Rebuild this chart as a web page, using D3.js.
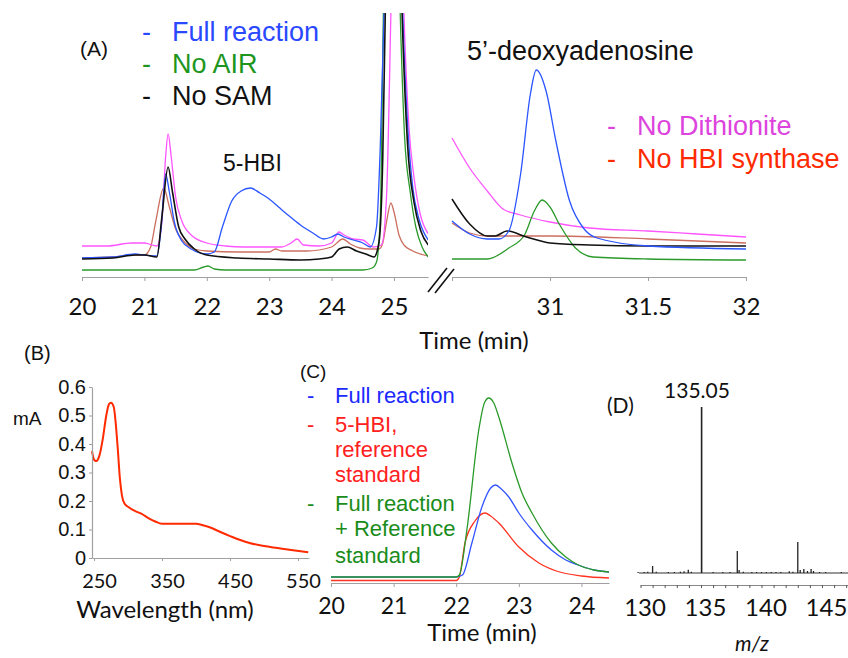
<!DOCTYPE html>
<html>
<head>
<meta charset="utf-8">
<script src="https://cdn.jsdelivr.net/npm/d3@7"></script>
<style>
  body { margin: 0; background: #fff; }
  svg { display: block; }
</style>
</head>
<body>
<script>
// ---- data (A: heights in detector units, t in min) ----
const aPinkL = [[20.0,31],[20.4,31],[20.8,34],[21.0,34],[21.2,31],[21.28,55],[21.34,120],[21.38,143],[21.43,120],[21.5,80],[21.6,56],[21.75,42],[22.0,34],[22.3,31],[22.6,30],[22.9,30],[23.2,30],[23.35,34],[23.45,38],[23.55,32],[23.8,31],[24.0,34],[24.12,45],[24.2,42],[24.35,38],[24.5,37],[24.67,30],[24.8,32],[24.88,80],[24.95,263],[25.02,480],[25.1,420],[25.16,263],[25.24,150],[25.32,100],[25.42,63],[25.55,43]];
const aBlueL = [[20.0,19],[20.5,20],[20.85,23],[21.0,22],[21.2,21],[21.27,50],[21.34,103],[21.4,85],[21.48,55],[21.6,36],[21.75,28],[22.0,23],[22.12,25],[22.25,50],[22.4,76],[22.55,86],[22.7,89],[22.85,84],[23.0,78],[23.15,70],[23.3,62],[23.5,52],[23.7,44],[23.87,38],[24.0,40],[24.1,43],[24.2,40],[24.35,37],[24.5,34],[24.62,30],[24.72,50],[24.78,130],[24.84,263],[24.92,480],[25.0,520],[25.08,400],[25.14,263],[25.22,150],[25.3,90],[25.4,58],[25.55,37]];
const aBlackL = [[20.0,18],[20.5,19],[20.85,22],[21.0,22],[21.2,20],[21.28,60],[21.38,110],[21.45,85],[21.55,50],[21.65,38],[21.8,28],[22.0,22],[22.5,19],[23.0,18],[23.5,17],[23.8,18],[24.0,20],[24.12,28],[24.25,30],[24.4,26],[24.55,23],[24.68,20],[24.76,35],[24.82,120],[24.86,263],[24.95,500],[25.05,470],[25.13,263],[25.22,130],[25.32,75],[25.43,46],[25.55,32]];
const aBrownL = [[20.0,19],[20.5,20],[20.85,22],[21.0,22],[21.1,30],[21.18,55],[21.31,89],[21.4,70],[21.5,48],[21.6,38],[21.8,28],[22.0,26],[22.5,25],[23.0,25],[23.1,28],[23.2,26],[23.6,26],[24.0,30],[24.18,38],[24.3,33],[24.45,29],[24.6,28],[24.76,28],[24.82,34],[24.88,55],[24.95,74],[25.0,65],[25.08,42],[25.16,32],[25.3,26],[25.55,21]];
const aGreenL = [[20.0,7],[21.0,7],[21.8,7],[21.95,10],[22.02,11],[22.12,8],[22.3,7],[23.5,7],[24.5,7],[24.65,9],[24.72,15],[24.78,60],[24.83,263],[24.92,500],[25.02,470],[25.1,263],[25.17,140],[25.26,85],[25.35,50],[25.45,30],[25.55,20]];

const aPinkR = [[30.5,139],[30.59,109],[30.68,86],[30.76,68],[30.85,62],[31.0,55],[31.2,49],[31.5,46],[31.75,43],[32.0,40]];
const aBlueR = [[30.5,56],[30.59,43],[30.68,38],[30.74,38],[30.79,46],[30.85,103],[30.9,183],[30.93,207],[30.98,186],[31.03,136],[31.1,76],[31.17,49],[31.24,39],[31.5,31],[32.0,28]];
const aBlackR = [[30.5,78],[30.59,53],[30.68,41],[30.72,41],[30.78,46],[30.88,40],[31.0,34],[31.2,32],[31.5,31],[32.0,31]];
const aBrownR = [[30.5,54],[30.59,44],[30.68,41],[31.0,41],[31.5,38],[32.0,34]];
const aGreenR = [[30.5,18],[30.68,18],[30.79,29],[30.87,42],[30.92,66],[30.96,77],[31.0,70],[31.05,52],[31.13,29],[31.22,20],[31.5,18],[32.0,17]];

const aTicksL = [20, 21, 22, 23, 24, 25];
const aTicksR = [30.5, 31, 31.5, 32];

// ---- B: UV-vis spectrum ----
const bSpectrum = [[247,0.375],[250,0.345],[253,0.34],[258,0.36],[263,0.42],[268,0.5],[272,0.54],[275,0.545],[279,0.53],[282,0.47],[285,0.38],[288,0.28],[291,0.22],[295,0.19],[300,0.18],[310,0.165],[320,0.155],[330,0.14],[340,0.128],[350,0.12],[370,0.12],[390,0.12],[400,0.12],[410,0.115],[420,0.108],[435,0.092],[450,0.077],[465,0.063],[480,0.052],[500,0.042],[520,0.035],[540,0.028],[565,0.02]];
const bTicksX = [250, 350, 450, 550];
const bTicksY = [0, 0.1, 0.2, 0.3, 0.4, 0.5, 0.6];

// ---- C: co-elution ----
const cGreen = [[20.0,6],[21.0,6],[22.0,6],[22.05,8],[22.17,53],[22.36,153],[22.45,180],[22.52,185],[22.6,180],[22.68,166],[22.89,120],[23.05,90],[23.21,70],[23.52,40],[23.75,26],[23.95,18],[24.2,13],[24.44,11]];
const cBlue = [[20.0,6],[22.0,6],[22.1,8],[22.25,40],[22.41,76],[22.55,95],[22.63,98],[22.72,94],[22.84,86],[23.0,70],[23.21,53],[23.52,33],[23.75,23],[23.95,18],[24.2,13],[24.44,11]];
const cRed = [[20.0,2.5],[22.0,2.5],[22.05,6],[22.14,40],[22.3,62],[22.46,70],[22.55,67],[22.68,60],[23.0,36],[23.32,20],[23.6,12],[24.0,7],[24.44,5]];
const cTicks = [20, 21, 22, 23, 24];

// ---- D: mass spectrum ----
const dMz  = [129.8,130.3,130.6,131.0,131.3,132.3,132.8,133.3,133.6,133.95,134.2,135.05,136.0,136.8,137.4,138.0,138.15,138.5,139.2,139.6,140.0,140.4,140.8,141.2,141.6,142.3,142.6,143.0,143.2,143.5,143.8,144.1,144.3,144.8,145.3,146.6];
const dInt = [0.6,0.6,0.8,4.2,0.8,0.6,0.6,0.8,1.0,2.0,0.8,100,0.6,0.6,0.6,13.3,1.8,0.8,0.6,0.6,0.6,0.6,0.6,0.6,0.6,1.0,0.8,18.7,1.8,2.4,1.2,2.4,1.2,0.6,0.6,0.6];
const dTicks = d3.range(130, 148, 1);

const cBlueC = "#2a55ff", cGreenC = "#2a9a2a", cPinkC = "#ff55ff", cBrownC = "#cc6f60";

const svg = d3.select("body").append("svg").attr("width", 848).attr("height", 658);
const arial = "'Liberation Sans', Arial, sans-serif";
const calib = "Lato, 'Open Sans', sans-serif";

const line = (x, y) => d3.line().x(d => x(d[0])).y(d => y(d[1])).curve(d3.curveMonotoneX);

const styleAxis = (g, size, fam) => {
    g.select(".domain").attr("stroke", "#a0a0a0").attr("stroke-width", 1.2);
    g.selectAll(".tick line").attr("stroke", "#a0a0a0");
    g.selectAll(".tick text").attr("fill", "#111").style("font-family", fam).style("font-size", size + "px");
};

const txt = (x, y, s, color, size, fam, anchor) => svg.append("text")
    .attr("x", x).attr("y", y).text(s)
    .attr("fill", color).attr("text-anchor", anchor || "start")
    .style("font-family", fam || arial).style("font-size", size + "px");

// ===== Panel A =====
const xAL = d3.scaleLinear().domain([20, 25.545]).range([82, 428]);
const xAR = d3.scaleLinear().domain([30.5, 32]).range([452, 746]);
const yA = d3.scaleLinear().domain([0, 264]).range([277, 13]);

svg.append("clipPath").attr("id", "clipA").append("rect").attr("x", 82).attr("y", 13).attr("width", 346).attr("height", 280);

const gAL = svg.append("g").attr("clip-path", "url(#clipA)");
[[aBrownL, cBrownC, 1.3], [aPinkL, cPinkC, 1.3], [aGreenL, cGreenC, 1.3], [aBlueL, cBlueC, 1.3], [aBlackL, "#111", 1.6]].forEach(([d, c, w]) => {
    gAL.append("path").attr("d", line(xAL, yA)(d)).attr("fill", "none").attr("stroke", c).attr("stroke-width", w);
});
const gAR = svg.append("g");
[[aBrownR, cBrownC, 1.3], [aPinkR, cPinkC, 1.3], [aGreenR, cGreenC, 1.3], [aBlackR, "#111", 1.5], [aBlueR, cBlueC, 1.3]].forEach(([d, c, w]) => {
    gAR.append("path").attr("d", line(xAR, yA)(d)).attr("fill", "none").attr("stroke", c).attr("stroke-width", w);
});

const axAL = svg.append("g").attr("transform", "translate(0,277)")
    .call(d3.axisBottom(xAL).tickValues(aTicksL).tickSize(4).tickSizeOuter(0).tickPadding(17).tickFormat(d3.format("d")));
styleAxis(axAL, 24, calib);
const axAR = svg.append("g").attr("transform", "translate(0,277)")
    .call(d3.axisBottom(xAR).tickValues(aTicksR).tickSize(4).tickSizeOuter(0).tickPadding(17).tickFormat(d => d === 30.5 ? "" : d));
styleAxis(axAR, 24, calib);

// axis break
svg.append("line").attr("x1", 428).attr("y1", 292).attr("x2", 447).attr("y2", 268).attr("stroke", "#111").attr("stroke-width", 1.6);
svg.append("line").attr("x1", 435).attr("y1", 293).attr("x2", 454).attr("y2", 269).attr("stroke", "#111").attr("stroke-width", 1.6);

txt(474, 349, "Time (min)", "#111", 24, calib, "middle");
txt(80, 56, "(A)", "#111", 21);
[["Full reaction", "#2a48ff", 41], ["No AIR", "#1e961e", 73], ["No SAM", "#111", 105]].forEach(([s, c, y]) => {
    txt(142, y, "-", c, 27);
    txt(172, y, s, c, 27);
});
[["No Dithionite", "#dd44dd", 135], ["No HBI synthase", "#ff2a00", 168]].forEach(([s, c, y]) => {
    txt(607, y, "-", c, 27);
    txt(637, y, s, c, 27);
});
txt(223, 171, "5-HBI", "#111", 23);
txt(467, 60, "5\u2019-deoxyadenosine", "#111", 27);

// ===== Panel B =====
const xB = d3.scaleLinear().domain([247, 566]).range([92, 308.9]);
const yB = d3.scaleLinear().domain([0, 0.6]).range([558, 387]);
svg.append("path").attr("d", line(xB, yB)(bSpectrum)).attr("fill", "none").attr("stroke", "#ff2a00").attr("stroke-width", 2);
const axBX = svg.append("g").attr("transform", "translate(0,558)")
    .call(d3.axisBottom(xB).tickValues(bTicksX).tickSize(3).tickSizeOuter(0).tickPadding(13));
styleAxis(axBX, 20, calib);
axBX.selectAll(".tick text").attr("dx", 5);
const axBY = svg.append("g").attr("transform", "translate(92,0)")
    .call(d3.axisLeft(yB).tickValues(bTicksY).tickSize(3).tickSizeOuter(0).tickPadding(3)
        .tickFormat(d => d === 0 ? "0" : d3.format(".1f")(d)));
styleAxis(axBY, 20, arial);
txt(24, 360, "(B)", "#111", 20);
txt(13, 425, "mA", "#111", 19);
txt(165, 618, "Wavelength (nm)", "#111", 24, calib, "middle");

// ===== Panel C =====
const xC = d3.scaleLinear().domain([20, 24.44]).range([331, 609]);
const yC = d3.scaleLinear().domain([0, 200]).range([583, 383]);
[[cRed, "#ff3322"], [cBlue, "#3355ff"], [cGreen, "#2a9a2a"]].forEach(([d, c]) => {
    svg.append("path").attr("d", line(xC, yC)(d)).attr("fill", "none").attr("stroke", c).attr("stroke-width", 1.3);
});
const axC = svg.append("g").attr("transform", "translate(0,583)")
    .call(d3.axisBottom(xC).tickValues(cTicks).tickSize(4).tickSizeOuter(0).tickPadding(11).tickFormat(d3.format("d")));
styleAxis(axC, 23, calib);
txt(482, 641, "Time (min)", "#111", 24, calib, "middle");
txt(300, 378, "(C)", "#111", 19);
[["-", "Full reaction", "#1a2aff", 403], ["-", "5-HBI,", "#ff2020", 432], ["", "reference", "#ff2020", 457], ["", "standard", "#ff2020", 482],
 ["-", "Full reaction", "#1a8c1a", 511], ["", "+ Reference", "#1a8c1a", 536], ["", "standard", "#1a8c1a", 563]].forEach(([dash, s, c, y]) => {
    if (dash) txt(307, y, dash, c, 22);
    txt(335, y, s, c, 22);
});

// ===== Panel D =====
const xD = d3.scaleLinear().domain([130, 147.2]).range([640.5, 848.6]);
const yD = d3.scaleLinear().domain([0, 100]).range([573, 407]);
svg.append("line").attr("x1", 639).attr("x2", 848).attr("y1", yD(0)).attr("y2", yD(0)).attr("stroke", "#333").attr("stroke-width", 1.2);
svg.append("g").selectAll("line").data(dMz.map((m, i) => [m, dInt[i]])).join("line")
    .attr("x1", d => xD(d[0])).attr("x2", d => xD(d[0]))
    .attr("y1", yD(0)).attr("y2", d => yD(d[1]))
    .attr("stroke", "#222").attr("stroke-width", d => d[1] > 50 ? 1.6 : 1.3);
const axD = svg.append("g").attr("transform", "translate(0,585)")
    .call(d3.axisBottom(xD).tickValues(dTicks).tickSize(3).tickSizeOuter(0).tickPadding(11).tickFormat(d => d % 5 === 0 ? d : ""));
styleAxis(axD, 24, calib);
axD.select(".domain").attr("stroke", "#888");
axD.selectAll(".tick line").attr("stroke", "#555");
axD.selectAll(".tick text").attr("dx", 4);
txt(607, 413, "(D)", "#111", 21, calib);
txt(697, 398, "135.05", "#111", 21, calib, "middle");
txt(752, 651, "m/z", "#111", 21, calib, "middle").style("font-style", "italic");
</script>
</body>
</html>
